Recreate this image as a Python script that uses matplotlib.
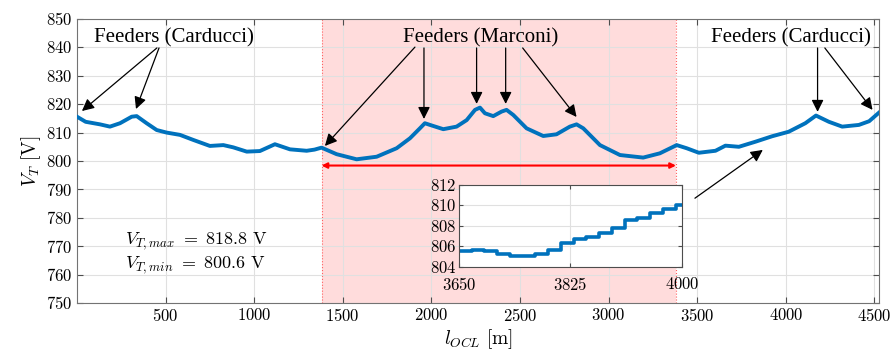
import matplotlib
matplotlib.use('Agg')
import matplotlib.pyplot as plt
from matplotlib.ticker import FuncFormatter

plt.rcParams['mathtext.fontset'] = 'cm'
plt.rcParams['font.family'] = ['Liberation Serif', 'DejaVu Serif']

# catenary voltage along the line (m, V)
pos = [0, 49, 130, 186, 243, 309, 337, 393, 450, 506, 581, 657, 750, 826, 882,
       958, 1032, 1117, 1202, 1296, 1340, 1380, 1465, 1578, 1691, 1804, 1879,
       1935, 1963, 1992, 2067, 2142, 2199, 2246, 2274, 2302, 2349, 2396, 2424,
       2462, 2537, 2631, 2706, 2781, 2819, 2857, 2951, 3064, 3195, 3289, 3384,
       3440, 3509, 3603, 3659, 3735, 3829, 3922, 4016, 4110, 4170, 4243, 4318,
       4412, 4470, 4525]
volt = [815.6, 813.8, 812.9, 812.1, 813.3, 815.6, 815.8, 813.3, 810.9, 810.0,
        809.2, 807.4, 805.3, 805.6, 804.8, 803.3, 803.5, 805.9, 804.1, 803.6,
        804.0, 804.7, 802.4, 800.6, 801.5, 804.5, 808.0, 811.5, 813.3, 812.7,
        811.2, 812.1, 814.4, 818.0, 818.8, 816.8, 815.8, 817.4, 818.0, 816.2,
        811.5, 808.8, 809.4, 812.1, 812.9, 811.5, 805.6, 802.1, 801.2, 802.7,
        805.6, 804.5, 802.9, 803.6, 805.4, 805.0, 806.8, 808.7, 810.3, 813.3,
        816.0, 813.8, 812.1, 812.7, 814.0, 817.0]

# zoomed detail (steps)
zoom_pos = [3650, 3670, 3690, 3710, 3730, 3750, 3770, 3790, 3810, 3830, 3850,
            3870, 3890, 3910, 3930, 3950, 3970, 3990, 4000]
zoom_volt = [805.56, 805.7, 805.56, 805.24, 805.07, 805.07, 805.24, 805.7,
             806.3, 806.7, 806.9, 807.3, 807.8, 808.6, 808.8, 809.3, 809.7,
             810.0, 810.0]

marconi_span = (1380, 3380)
blue = '#0072BD'
cm_fmt = FuncFormatter(lambda v, p: f'${v:g}$')

fig = plt.figure(figsize=(8.94, 3.55), dpi=100)
ax = fig.add_axes([0.0861, 0.1465, 0.897, 0.8])

ax.axvspan(*marconi_span, color='#ffdcdc', zorder=0.5, lw=0)
for xv in marconi_span:
    ax.axvline(xv, color='#ff6060', ls=':', lw=0.8, zorder=0.6)

ax.plot(pos, volt, color=blue, lw=2.8, zorder=3, solid_joinstyle='round')

ax.set_xlim(0, 4525)
ax.set_ylim(750, 850)
ax.set_xticks(range(500, 4501, 500))
ax.set_yticks(range(750, 851, 10))
ax.xaxis.set_major_formatter(cm_fmt)
ax.yaxis.set_major_formatter(cm_fmt)
ax.tick_params(direction='in', top=True, right=True, labelsize=12,
               color='0.3', length=4)
ax.grid(True, color='0.88', lw=0.8)
for s in ax.spines.values():
    s.set_color('0.45')
ax.set_xlabel(r'$l_{OCL}\ [\mathrm{m}]$', fontsize=14, labelpad=2)
ax.set_ylabel(r'$V_T\ [\mathrm{V}]$', fontsize=14, labelpad=2)

# marconi span arrow
ax.annotate('', xy=(marconi_span[0], 798.4), xytext=(marconi_span[1], 798.4),
            arrowprops=dict(arrowstyle='<|-|>', color='red', lw=1.5,
                            mutation_scale=8, shrinkA=0, shrinkB=0))

akw = dict(arrowstyle='-|>', color='black', lw=0.9, mutation_scale=18,
           shrinkA=0, shrinkB=0)
txt_kw = dict(fontsize=15, ha='center', va='center')
ax.text(547, 843.3, 'Feeders (Carducci)', **txt_kw)
ax.text(2279, 843.3, 'Feeders (Marconi)', **txt_kw)
ax.text(4028, 843.3, 'Feeders (Carducci)', **txt_kw)

arrows = [((451, 839.8), (28, 817.6)), ((463, 839.8), (333, 818.3)),
          ((1907, 840.1), (1399, 805.3)), ((1958, 839.8), (1958, 814.8)),
          ((2255, 839.8), (2255, 820.1)), ((2419, 839.8), (2419, 820.1)),
          ((2515, 839.8), (2819, 815.5)), ((4179, 839.8), (4179, 817.3)),
          ((4220, 839.8), (4489, 818.0)), ((3487, 786.9), (3870, 803.9))]
for tail, head in arrows:
    ax.annotate('', xy=head, xytext=tail, arrowprops=akw)

ax.text(271, 771.6, r'$V_{T,max}\ =\ 818.8\ \mathrm{V}$', fontsize=13,
        ha='left', va='center')
ax.text(271, 763.4, r'$V_{T,min}\ =\ 800.6\ \mathrm{V}$', fontsize=13,
        ha='left', va='center')

# inset
ins = fig.add_axes([0.5134, 0.2479, 0.2494, 0.231])
ins.plot(zoom_pos, zoom_volt, color=blue, lw=2.6, drawstyle='steps-post')
ins.set_xlim(3650, 4000)
ins.set_ylim(804, 812)
ins.set_xticks([3650, 3825, 4000])
ins.set_yticks([804, 806, 808, 810, 812])
ins.xaxis.set_major_formatter(cm_fmt)
ins.yaxis.set_major_formatter(cm_fmt)
ins.tick_params(direction='in', top=True, right=True, labelsize=12,
                color='0.3', length=3, pad=2)
ins.tick_params(axis='x', pad=7)
ins.grid(True, color='0.88', lw=0.8)
for s in ins.spines.values():
    s.set_color('0.3')

fig.savefig('out.png', dpi=100)
